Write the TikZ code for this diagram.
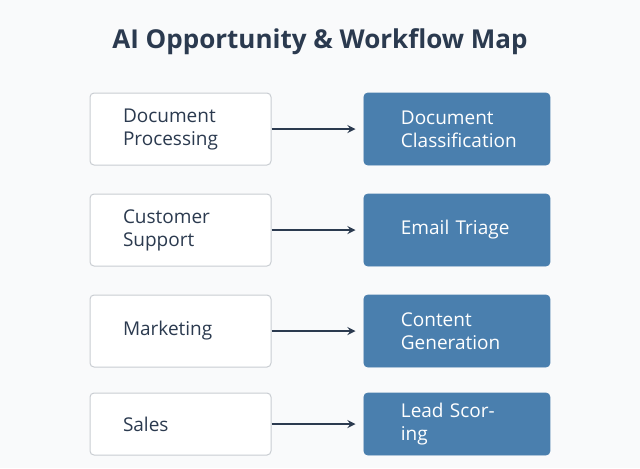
\documentclass[tikz,border=0pt]{standalone}
\usepackage{fontspec}
\setmainfont{Open Sans}
\usetikzlibrary{positioning}
\definecolor{titleink}{HTML}{2B3A4F}
\definecolor{boxblue}{HTML}{4A7FAE}
\definecolor{boxline}{HTML}{C9CDD2}
\definecolor{bgpaper}{HTML}{F9FAFB}
\tikzset{
  area/.style={rectangle, draw=boxline, fill=white, rounded corners=2pt, line width=0.5pt,
    minimum width=90.5pt, minimum height=36pt, text width=57.5pt, inner xsep=16.5pt,
    align=left, font=\fontsize{9.5}{11.5}\selectfont, text=titleink},
  usecase/.style={rectangle, draw=boxblue, fill=boxblue, rounded corners=2pt,
    minimum width=93pt, minimum height=36pt, text width=56pt, inner xsep=18.5pt,
    align=left, font=\fontsize{9.5}{11.5}\selectfont, text=white},
  flow/.style={->, line width=0.8pt, draw=titleink, >=stealth, shorten >=4pt}
}
\begin{document}
\begin{tikzpicture}[x=0.5pt,y=-0.5pt]
		
		\fill[bgpaper] (0,0) rectangle (640,468);
		\useasboundingbox (0,0) rectangle (640,468);
		
		\node[font=\bfseries\fontsize{13}{15}\selectfont, text=titleink]
		(title) at (320,42) {AI Opportunity \& Workflow Map};
		
		% Business areas
		
		\node[area] (docArea) at (180.5,129) {Document\\Processing};
		\node[area] (supArea) at (180.5,230) {Customer\\Support};
		\node[area] (mktArea) at (180.5,331) {Marketing};
		\node[area, minimum height=31pt] (salesArea) at (180.5,424) {Sales};
		
		% AI use cases
		
		\node[usecase, right=46pt of docArea] (docCase) {Document\\Classification};
		\node[usecase, right=46pt of supArea] (supCase) {Email Triage};
		\node[usecase, right=46pt of mktArea] (mktCase) {Content\\Generation};
		\node[usecase, minimum height=31pt, right=46pt of salesArea] (salesCase) {Lead Scoring};
		
		% EDGE
		
		\draw[flow] (docArea) -- (docCase);
		\draw[flow] (supArea) -- (supCase);
		\draw[flow] (mktArea) -- (mktCase);
		\draw[flow] (salesArea) -- (salesCase);
		
	\end{tikzpicture}
\end{document}
